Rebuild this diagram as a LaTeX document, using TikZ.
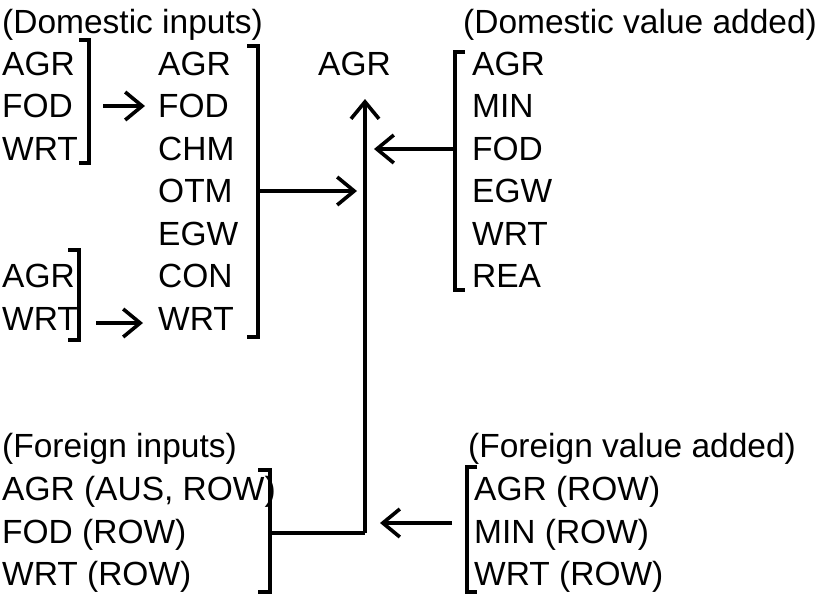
\documentclass[tikz,border=0pt]{standalone}
\usepackage{fontspec}
\setmainfont{Liberation Sans}
\usetikzlibrary{arrows.meta}
\begin{document}
\begin{tikzpicture}[x=1pt,y=-1pt,
  lbl/.style={anchor=base west, inner sep=0pt, font=\fontsize{33.5}{36}\selectfont},
  brk/.style={line width=4pt, line cap=butt, line join=miter},
  con/.style={line width=3.6pt},
  arr/.style={line width=3.6pt, -{Straight Barb[length=17pt,width=28pt]}}]
\useasboundingbox (0,0) rectangle (827,595);
% headings
\node[lbl] (hdi) at (2,33) {(Domestic inputs)};
\node[lbl] (hdv) at (463,33) {(Domestic value added)};
\node[lbl] (hfi) at (2,457) {(Foreign inputs)};
\node[lbl] (hfv) at (468,457) {(Foreign value added)};
% left column top
\node[lbl] (l1) at (2,75) {AGR};
\node[lbl] (l2) at (2,117.5) {FOD};
\node[lbl] (l3) at (2,160) {WRT};
% left column lower
\node[lbl] (l4) at (2,287.5) {AGR};
\node[lbl] (l5) at (2,330) {WRT};
% middle column
\node[lbl] (m1) at (158,75) {AGR};
\node[lbl] (m2) at (158,117.5) {FOD};
\node[lbl] (m3) at (158,160) {CHM};
\node[lbl] (m4) at (158,202.5) {OTM};
\node[lbl] (m5) at (158,245) {EGW};
\node[lbl] (m6) at (158,287.5) {CON};
\node[lbl] (m7) at (158,330) {WRT};
% target
\node[lbl] (t) at (318,75) {AGR};
% right column
\node[lbl] (r1) at (472,75) {AGR};
\node[lbl] (r2) at (472,117.5) {MIN};
\node[lbl] (r3) at (472,160) {FOD};
\node[lbl] (r4) at (472,202.5) {EGW};
\node[lbl] (r5) at (472,245) {WRT};
\node[lbl] (r6) at (472,287.5) {REA};
% foreign inputs
\node[lbl] (f1) at (2,500) {AGR (AUS, ROW)};
\node[lbl] (f2) at (2,543) {FOD (ROW)};
\node[lbl] (f3) at (2,585) {WRT (ROW)};
% foreign value added
\node[lbl] (v1) at (474,500) {AGR (ROW)};
\node[lbl] (v2) at (474,543) {MIN (ROW)};
\node[lbl] (v3) at (474,585) {WRT (ROW)};
% brackets
\draw[brk] (79,40) -- (89,40) -- (89,163) -- (79,163);
\draw[brk] (247,46) -- (258,46) -- (258,337) -- (247,337);
\draw[brk] (68,250) -- (79,250) -- (79,340) -- (68,340);
\draw[brk] (465,52) -- (455,52) -- (455,290) -- (465,290);
\draw[brk] (258,470) -- (270,470) -- (270,592) -- (258,592);
\draw[brk] (477,467) -- (467,467) -- (467,592) -- (477,592);
% connector points
\coordinate (b1) at (103,106);
\coordinate (e1) at (145,106);
\coordinate (b3) at (96,323);
\coordinate (e3) at (143,323);
\coordinate (b2) at (258,191);
\coordinate (e2) at (357,191);
\coordinate (b4) at (455,149);
\coordinate (e4) at (374,149);
\coordinate (b5) at (270,533);
\coordinate (b6) at (452,523);
\coordinate (e6) at (380,523);
\coordinate (j) at (365,533);
\coordinate (top) at (365,99);
% connectors
\draw[arr] (b1) -- (e1);
\draw[arr] (b3) -- (e3);
\draw[arr] (b2) -- (e2);
\draw[arr] (b4) -- (e4);
\draw[arr] (b6) -- (e6);
\draw[con] (b5) -- (j);
\draw[arr] (j) -- (top);
\end{tikzpicture}
\end{document}
